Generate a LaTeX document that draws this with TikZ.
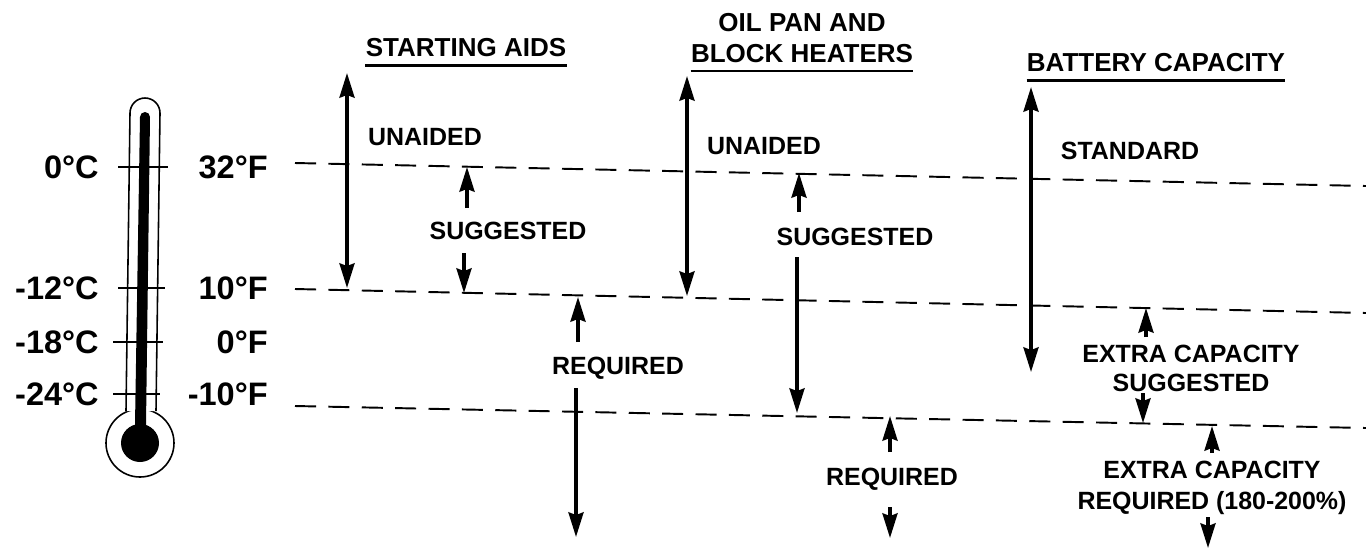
\documentclass[tikz,border=0pt]{standalone}
\usepackage{fontspec}
\setmainfont{Liberation Sans}
\usetikzlibrary{arrows.meta}

\def\tempsize{\fontsize{18.5}{22}\selectfont\bfseries}
\def\txtsize{\fontsize{14.2}{18}\selectfont\bfseries}
\def\headsize{\fontsize{14.8}{18}\selectfont\bfseries}
\def\tipsize{length=14pt, width=8.5pt, inset=1.5pt}

\begin{document}
\begin{tikzpicture}[x=0.02cm, y=-0.02cm,
    txt/.style={font=\txtsize, inner sep=0pt, align=center},
    head/.style={font=\headsize, inner sep=0pt, align=center},
    templabel/.style={font=\tempsize, inner sep=0pt},
    span/.style={line width=2pt, {Stealth[\tipsize]}-{Stealth[\tipsize]}},
    pointer/.style={line width=2pt, -{Stealth[\tipsize]}},
    templine/.style={line width=1.1pt, dash pattern=on 12pt off 7pt},
    uline/.style={line width=1.3pt},
    glass/.style={line width=0.9pt},
    tickmark/.style={line width=1.6pt}
    ]
    \useasboundingbox (0,0) rectangle (1366,549);

    % Dashed temperature lines
    \foreach \n/\ya/\yb in {1/163/186, 2/289/313, 3/406/428} {
        \coordinate (w\n) at (295,\ya);
        \coordinate (e\n) at (1366,\yb);
        \draw[templine] (w\n) -- (e\n);
    }

    % Thermometer
    \draw[glass, fill=white] (140,443) circle (34);
    \draw[glass, fill=white] (126,411) -- (130,113)
        arc[start angle=180, end angle=360, radius=15] -- (156,411);
    \fill (140,117) arc[start angle=180, end angle=360, radius=5]
        -- (146,425) -- (135,425) -- cycle;
    \fill (140,443) circle (19);

    % Scale marks and labels
    \foreach \y/\c/\f/\ta/\tb in {167/0°C/32°F/118/168, 288/-12°C/10°F/118/165,
                                  342/-18°C/0°F/113/163, 394/-24°C/-10°F/113/160} {
        \coordinate (tl\y) at (\ta,\y);
        \coordinate (tr\y) at (\tb,\y);
        \draw[tickmark] (tl\y) -- (tr\y);
        \node[templabel, anchor=east] (c\y) at (99,\y) {\c};
        \node[templabel, anchor=east] (f\y) at (268,\y) {\f};
    }

    % Headings
    \node[head] (hdStart) at (466,48) {STARTING AIDS};
    \node[head] (hdHeat) at (802,38) {OIL PAN AND\\BLOCK HEATERS};
    \node[head] (hdBatt) at (1156,63) {BATTERY CAPACITY};
    \foreach \h in {hdStart, hdHeat, hdBatt} {
        \draw[uline] ([yshift=-4.5pt]\h.south west) -- ([yshift=-4.5pt]\h.south east);
    }

    % Range labels
    \node[txt] (unaidedA) at (425,137) {UNAIDED};
    \node[txt] (suggA) at (508,231) {SUGGESTED};
    \node[txt] (reqA) at (618,368) {REQUIRED};
    \node[txt] (unaidedB) at (764,146) {UNAIDED};
    \node[txt] (suggB) at (855,237) {SUGGESTED};
    \node[txt] (reqB) at (892,479) {REQUIRED};
    \node[txt] (std) at (1130,151) {STANDARD};
    \node[txt, font=\fontsize{14.2}{16.5}\selectfont\bfseries] (extraS) at (1191,368)
        {EXTRA CAPACITY\\SUGGESTED};
    \node[txt] (extraR) at (1212,488) {EXTRA CAPACITY\\REQUIRED (180-200\%)};

    % Double arrows
    \foreach \i/\x/\ya/\yb in {1/347/73/288, 2/687/76/296, 3/1031/87/372} {
        \coordinate (s\i a) at (\x,\ya);
        \coordinate (s\i b) at (\x,\yb);
        \draw[span] (s\i a) -- (s\i b);
    }

    % Single arrows
    \foreach \i/\x/\ya/\yb in {1/467/208/167, 2/464/253/293, 3/578/342/297,
                               4/576/388/537, 5/799/212/173, 6/797/257/413,
                               7/890/452/416, 8/890/507/538, 9/1146/337/308,
                               10/1143/393/423, 11/1212/453/426, 12/1208/517/548} {
        \coordinate (p\i a) at (\x,\ya);
        \coordinate (p\i b) at (\x,\yb);
        \draw[pointer] (p\i a) -- (p\i b);
    }
\end{tikzpicture}
\end{document}
